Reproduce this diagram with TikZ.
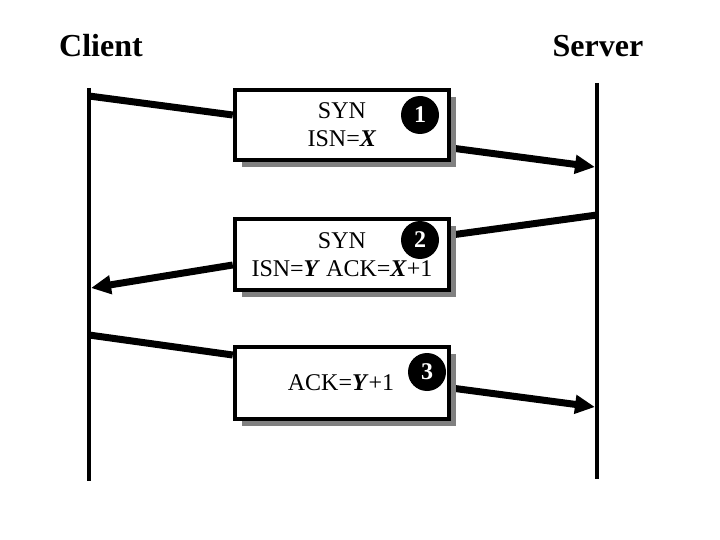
\documentclass[tikz,border=0pt]{standalone}
\usepackage{fontspec}
\setmainfont{Liberation Serif}
\usetikzlibrary{arrows.meta,shadows,backgrounds}
\begin{document}
\begin{tikzpicture}[x=1pt,y=-1pt,
  lifeline/.style={line width=4.5pt},
  msg/.style={line width=7pt},
  msgarrow/.style={line width=7pt,-{Triangle[length=20pt,width=18pt]}},
  msgbox/.style={draw,line width=4.5pt,fill=white,minimum width=214pt,
    align=center,font=\fontsize{24}{28}\selectfont,inner sep=0pt,
    drop shadow={shadow xshift=7pt,shadow yshift=-7pt,fill=black!50,opacity=1}},
  stepnum/.style={circle,fill=black,minimum size=38pt,inner sep=0pt,
    text=white,font=\fontsize{24}{24}\selectfont\bfseries},
  title/.style={font=\fontsize{32}{32}\selectfont\bfseries,inner sep=0pt,anchor=base}]
\useasboundingbox (0,0) rectangle (720,540);
% titles
\node[title] (client) at (101,57) {Client};
\node[title] (server) at (598,57) {Server};
% life lines
\coordinate (ctop) at (89,88);
\coordinate (cbot) at (89,481);
\coordinate (stop) at (597,83);
\coordinate (sbot) at (597,479);
\draw[lifeline] (ctop) -- (cbot);
\draw[lifeline] (stop) -- (sbot);
% boxes
\node[msgbox,minimum height=70pt] (b1) at (342,125) {SYN\\ISN=\textbf{\textit{X}}};
\node[msgbox,minimum height=71pt] (b2) at (342,254.5) {SYN\\ISN=\textbf{\textit{Y}} ACK=\textbf{\textit{X}}+1};
\node[msgbox,minimum height=72pt] (b3) at (342,383) {\hspace*{-2pt}ACK=\textbf{\textit{Y}}+1};
% step numbers
\node[stepnum] (n1) at (420,115) {1};
\node[stepnum] (n2) at (420,240) {2};
\node[stepnum] (n3) at (427,372) {3};
% message end points on the life lines
\coordinate (c1) at (89,96);
\coordinate (s1) at (595,167);
\coordinate (s2) at (597,215);
\coordinate (c2) at (91,288);
\coordinate (c3) at (89,335);
\coordinate (s3) at (595,407);
\begin{pgfonlayer}{background}
\draw[msg] (c1) -- ([yshift=10pt]b1.west);
\draw[msgarrow] ([yshift=-23pt]b1.east) -- (s1);
\draw[msg] (s2) -- ([yshift=19.5pt]b2.east);
\draw[msgarrow] ([yshift=-10.5pt]b2.west) -- (c2);
\draw[msg] (c3) -- ([yshift=28pt]b3.west);
\draw[msgarrow] ([yshift=-5pt]b3.east) -- (s3);
\end{pgfonlayer}
\end{tikzpicture}
\end{document}
